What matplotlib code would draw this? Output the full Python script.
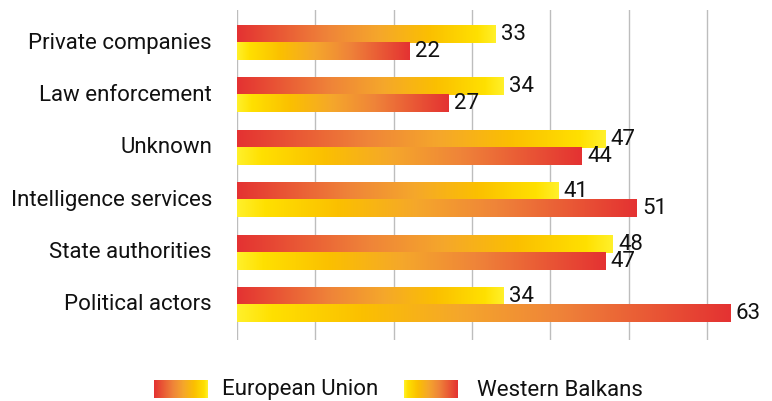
import numpy as np
import matplotlib.pyplot as plt
from matplotlib.colors import LinearSegmentedColormap

categories = ["Private companies", "Law enforcement", "Unknown",
              "Intelligence services", "State authorities", "Political actors"]
eu_values = [33, 34, 47, 41, 48, 34]
wb_values = [22, 27, 44, 51, 47, 63]

plt.rcParams['font.family'] = ['Roboto', 'DejaVu Sans']

# red -> orange -> yellow gradient used for every bar
grad = LinearSegmentedColormap.from_list("ry", [
    (0.0, "#e43232"), (0.35, "#ef8439"), (0.55, "#f5a72b"),
    (0.75, "#fbc000"), (0.93, "#ffe000"), (1.0, "#fff02a")])
ramp = np.linspace(0, 1, 256).reshape(1, -1)

fig = plt.figure(figsize=(7.72, 4.01), dpi=100)
W, H = 772, 401
ax = fig.add_axes([237 / W, 1 - 340 / H, (68 * 7.833) / W, 330 / H])
ax.axis("off")

for gx in range(0, 70, 10):
    ax.axvline(gx, color="#bdbdbd", lw=1, zorder=0)

fs = 16
bh = 0.325
for i, (eu, wb) in enumerate(zip(eu_values, wb_values)):
    y_eu = i - bh / 2
    y_wb = i + bh / 2
    ax.imshow(ramp, cmap=grad, aspect="auto", zorder=2,
              extent=(0, eu, y_eu + bh / 2, y_eu - bh / 2))
    ax.imshow(ramp[:, ::-1], cmap=grad, aspect="auto", zorder=2,
              extent=(0, wb, y_wb + bh / 2, y_wb - bh / 2))
    ax.text(eu + 0.7, y_eu, str(eu), va="center", ha="left", fontsize=fs,
            color="#111111", clip_on=False)
    ax.text(wb + 0.7, y_wb, str(wb), va="center", ha="left", fontsize=fs,
            color="#111111", clip_on=False)
    ax.text(-3.2, i, categories[i], va="center", ha="right", fontsize=fs,
            color="#111111", clip_on=False)

ax.set_xlim(0, 68)
ax.set_ylim(5.67, -0.63)

# legend swatches
for x0, rev, label, tx in [(154, False, "European Union", 222),
                           (404, True, "Western Balkans", 477)]:
    sw = fig.add_axes([x0 / W, 1 - 398 / H, 54 / W, 18 / H])
    sw.imshow(ramp[:, ::-1] if rev else ramp, cmap=grad, aspect="auto")
    sw.axis("off")
    fig.text(tx / W, 1 - 390 / H, label, va="center", ha="left",
             fontsize=fs, color="#111111")

fig.savefig("out.png", dpi=100)
